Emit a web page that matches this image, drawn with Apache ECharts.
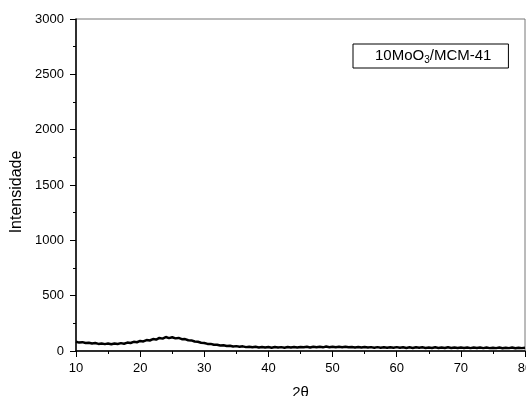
<!DOCTYPE html>
<html>
<head>
<meta charset="utf-8">
<script src="https://cdn.jsdelivr.net/npm/echarts@6/dist/echarts.min.js"></script>
<style>
  html, body { margin: 0; padding: 0; background: #fff; }
  #chart { width: 526px; height: 396px; }
</style>
</head>
<body>
<div id="chart"></div>
<script>
// sampling grid of the pattern (2theta, degrees)
const thetaStart = 10
const thetaStep = 0.5

// intensity, one value per step from 10 to 80
const intensity = [
    84, 76, 80, 72, 75, 68, 72, 64, 68, 62,
    67, 61, 68, 64, 71, 66, 76, 72, 83, 79,
    91, 86, 99, 95, 108, 103, 118, 112, 126, 116,
    124, 114, 118, 107, 108, 97, 96, 86, 84, 75,
    72, 64, 64, 56, 57, 50, 52, 45, 48, 41,
    44, 38, 42, 35, 39, 33, 38, 32, 37, 31,
    36,
    30, 36, 31, 35, 30, 36, 31, 37, 32, 36,
    33, 38, 32, 39, 34, 38, 33, 40, 34, 39,
    33, 38, 34, 39, 33, 37, 32, 37, 31, 36,
    31, 35, 30, 35, 30, 34, 29, 34, 29, 35,
    29, 34, 28, 33, 28, 34, 29, 33, 28, 32,
    27, 33, 28, 32, 27, 33, 28, 32, 27, 31,
    27, 32, 26, 31, 27, 32, 26, 31, 26, 30,
    26, 31, 25, 30, 26, 31, 25, 30, 26, 30
]

const xTicks = [10, 80, 10]      // min, max, interval
const yTicks = [0, 3000, 500]
const sampleName = '10MoO3/MCM-41'

const points = intensity.map((v, i) => [thetaStart + i * thetaStep, v])

var myChart = echarts.init(document.getElementById('chart'))
var option = {
    animation: false,
    backgroundColor: '#fff',
    textStyle: { fontFamily: 'Liberation Sans, Arial, sans-serif' },
    grid: {
        left: 76, right: 1, top: 19, bottom: 45,
        containLabel: false,
        outerBoundsMode: 'none',
        show: true, borderColor: '#777', borderWidth: 1
    },
    legend: {
        data: [sampleName],
        left: 353, top: 44,
        icon: 'none',
        itemWidth: 0, itemHeight: 0, itemGap: 0,
        borderColor: '#000', borderWidth: 1,
        padding: [4, 17, 3, 17],
        formatter: function () { return '10MoO{sub|3}/MCM-41' },
        textStyle: {
            fontSize: 15, color: '#000',
            rich: {
                sub: { fontSize: 10, verticalAlign: 'bottom', padding: [9, 0, 0, 0], color: '#000' }
            }
        }
    },
    xAxis: {
        type: 'value',
        min: xTicks[0], max: xTicks[1], interval: xTicks[2],
        name: '2θ',
        nameLocation: 'middle',
        nameGap: 34,
        nameTextStyle: { fontSize: 15, color: '#000' },
        axisLine: { lineStyle: { color: '#000', width: 1.5 } },
        axisTick: { inside: false, length: 6, lineStyle: { color: '#000' } },
        minorTick: { show: true, splitNumber: 2, length: 3, lineStyle: { color: '#000' } },
        axisLabel: { fontSize: 13, color: '#000', margin: 11 },
        splitLine: { show: false }
    },
    yAxis: {
        type: 'value',
        min: yTicks[0], max: yTicks[1], interval: yTicks[2],
        name: 'Intensidade',
        nameLocation: 'middle',
        nameGap: 45,
        nameTextStyle: { fontSize: 16, color: '#000', padding: [0, 14, 0, 0] },
        axisLine: { show: true, lineStyle: { color: '#000', width: 1.5 } },
        axisTick: { show: true, inside: false, length: 6, lineStyle: { color: '#000' } },
        minorTick: { show: true, splitNumber: 2, length: 3, lineStyle: { color: '#000' } },
        axisLabel: { fontSize: 13, color: '#000', margin: 12, formatter: function (v) { return String(v) } },
        splitLine: { show: false }
    },
    series: [
        {
            name: sampleName,
            type: 'line',
            symbol: 'none',
            data: points,
            lineStyle: { color: '#000', width: 2.5 },
            itemStyle: { color: '#000' }
        }
    ]
}
myChart.setOption(option)
</script>
</body>
</html>
